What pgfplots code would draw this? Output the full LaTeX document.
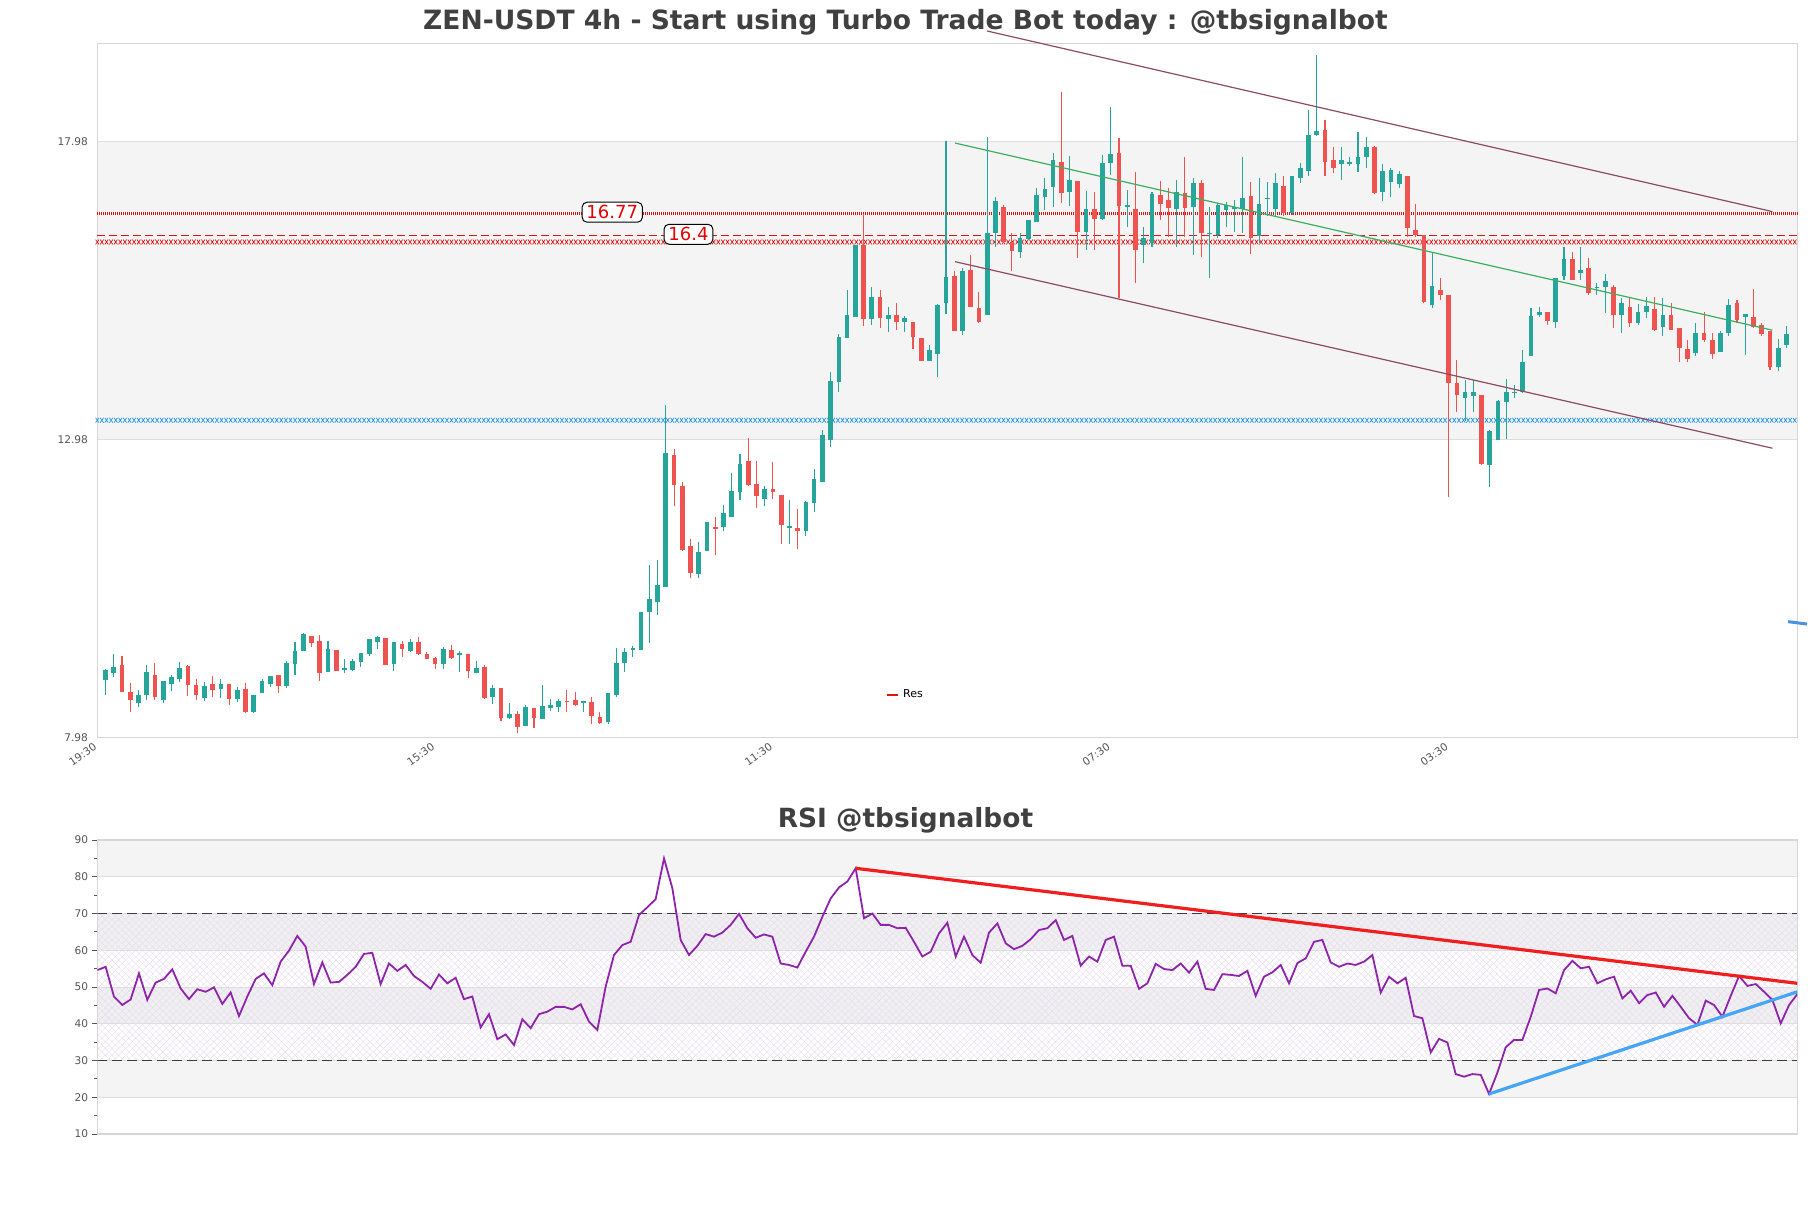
\documentclass[border=0pt]{standalone}
\usepackage{pgfplots}
\pgfplotsset{compat=1.18}
\usepackage{pgfplotstable}
\usepackage{fontspec}
\setmainfont{DejaVu Sans}
\usetikzlibrary{patterns.meta, decorations.markings}
\pgfplotsset{set layers}

\definecolor{cgreen}{RGB}{38,166,154}
\definecolor{cred}{RGB}{239,83,80}
\definecolor{bandgray}{RGB}{244,244,244}
\definecolor{gridgray}{RGB}{222,222,222}
\definecolor{framegray}{RGB}{214,214,214}
\definecolor{titlegray}{RGB}{64,64,64}
\definecolor{ticklab}{RGB}{85,85,85}
\definecolor{chan}{RGB}{140,75,100}
\definecolor{trendgreen}{RGB}{60,175,95}
\definecolor{resred}{RGB}{225,20,20}
\definecolor{supblue}{RGB}{30,150,235}
\definecolor{rsipurple}{RGB}{142,36,170}
\definecolor{rsired}{RGB}{240,30,30}
\definecolor{rsiblue}{RGB}{70,165,245}
\definecolor{hatch}{RGB}{230,222,236}
\definecolor{rsiband}{RGB}{240,240,243}
\definecolor{segblue}{RGB}{74,144,226}

\tikzset{xchain/.style={postaction={decorate, decoration={markings,
  mark=between positions 0 and 1 step 2.3pt with {\draw[#1, line width=0.35pt] (-0.85pt,-1.2pt)--(0.85pt,1.2pt) (-0.85pt,1.2pt)--(0.85pt,-1.2pt);}}}}}

\pgfplotstableread{
i o h l c
0 8.941 9.120 8.690 9.109
1 9.064 9.377 8.997 9.165
4 8.561 8.773 8.494 8.690
5 8.690 9.193 8.606 9.076
7 8.606 8.925 8.561 8.925
8 8.874 9.025 8.762 8.992
9 8.958 9.249 8.913 9.143
12 8.639 8.913 8.595 8.841
14 8.790 8.958 8.645 8.874
16 8.623 8.829 8.567 8.773
18 8.410 8.690 8.393 8.690
19 8.718 8.953 8.718 8.925
20 8.874 9.008 8.829 9.008
22 8.841 9.260 8.801 9.232
23 9.210 9.573 9.025 9.427
24 9.433 9.724 9.433 9.713
27 9.081 9.596 9.081 9.461
29 9.109 9.294 9.064 9.137
30 9.109 9.294 9.098 9.266
31 9.249 9.399 9.165 9.399
32 9.377 9.629 9.349 9.629
33 9.579 9.685 9.461 9.668
35 9.210 9.579 9.098 9.579
37 9.433 9.624 9.416 9.579
41 9.215 9.489 9.126 9.461
43 9.366 9.433 9.081 9.388
45 9.064 9.260 9.053 9.137
47 8.662 8.852 8.539 8.807
49 8.298 8.550 8.281 8.371
51 8.170 8.516 8.170 8.494
53 8.293 8.857 8.293 8.505
54 8.477 8.623 8.427 8.522
55 8.494 8.623 8.410 8.589
58 8.550 8.589 8.410 8.589
61 8.243 8.718 8.203 8.718
62 8.690 9.473 8.662 9.221
63 9.233 9.473 9.081 9.417
64 9.456 9.513 9.322 9.473
65 9.451 10.077 9.451 10.077
66 10.088 10.871 9.557 10.295
67 10.245 10.955 10.032 10.536
68 10.508 13.555 10.497 12.755
72 10.715 11.252 10.657 11.090
73 11.107 11.592 11.107 11.592
75 11.512 11.881 11.448 11.743
76 11.680 12.419 11.670 12.113
77 12.101 12.726 11.957 12.564
80 11.986 12.200 11.853 12.148
83 11.506 11.957 11.223 11.520
85 11.448 11.940 11.350 11.928
86 11.911 12.477 11.767 12.315
87 12.258 13.130 12.258 13.055
88 12.968 14.106 12.852 13.950
89 13.933 14.742 13.777 14.690
90 14.684 15.482 14.684 15.060
91 15.031 16.233 15.031 16.233
93 14.990 15.527 14.904 15.365
95 15.002 15.204 14.788 15.066
97 14.944 15.043 14.788 15.020
100 14.297 14.557 14.297 14.470
101 14.413 15.250 14.025 15.233
102 15.262 17.980 15.077 15.701
104 14.799 15.857 14.730 15.800
107 15.066 18.045 15.066 16.447
108 16.447 17.050 16.212 16.978
111 16.116 16.447 16.016 16.350
112 16.335 16.659 16.324 16.659
113 16.631 17.191 16.631 17.079
114 17.051 17.369 16.827 17.180
115 17.219 17.778 16.883 17.666
117 17.135 17.734 16.895 17.331
119 16.464 17.152 16.156 16.839
121 16.671 17.750 16.660 17.611
122 17.611 18.550 17.410 17.767
124 16.890 17.170 16.550 16.910
126 16.240 16.550 15.940 16.350
127 16.270 17.135 16.210 17.090
130 16.839 17.330 16.212 17.135
132 16.883 17.360 16.070 17.275
134 16.430 16.880 15.690 16.447
135 16.410 16.940 16.360 16.910
136 16.830 16.960 16.550 16.910
137 16.860 17.000 16.460 16.870
138 16.840 17.720 16.440 17.030
140 16.390 17.360 16.270 16.930
141 17.020 17.300 16.730 17.030
142 16.840 17.440 16.730 17.275
144 16.770 17.390 16.740 17.390
145 17.360 17.610 17.280 17.540
146 17.480 18.510 17.390 18.090
147 18.090 19.430 18.070 18.160
150 17.600 17.880 17.330 17.670
151 17.610 17.720 17.560 17.630
152 17.600 18.130 17.460 17.720
153 17.720 18.050 17.540 17.880
155 17.130 17.600 16.980 17.480
156 17.290 17.540 17.040 17.500
157 17.270 17.480 17.200 17.430
161 15.240 16.130 15.180 15.550
165 13.670 13.980 13.280 13.780
166 13.700 13.980 13.440 13.780
168 12.550 13.140 12.180 13.120
169 12.970 13.640 12.960 13.620
170 13.610 14.000 12.990 13.780
171 13.760 13.890 13.670 13.780
172 13.780 14.480 13.750 14.280
173 14.370 15.180 14.370 15.050
174 15.070 15.200 15.040 15.120
176 14.950 15.680 14.840 15.680
177 15.720 16.210 15.650 16.000
179 15.770 16.210 15.650 15.820
181 15.530 15.600 15.400 15.540
182 15.530 15.760 15.100 15.630
184 15.070 15.350 14.760 15.270
186 14.930 15.250 14.900 15.120
187 15.120 15.370 15.010 15.210
189 14.870 15.350 14.710 15.070
193 14.420 14.930 14.380 14.770
196 14.450 14.790 14.450 14.770
197 14.760 15.330 14.710 15.230
199 15.030 15.080 14.390 15.080
203 14.190 14.670 14.120 14.520
204 14.560 14.880 14.510 14.740
}\greentab

\pgfplotstableread{
i o h l c
2 9.193 9.344 8.740 8.746
3 8.746 8.897 8.410 8.606
6 9.025 9.232 8.606 8.651
10 9.176 9.193 8.673 8.857
11 8.857 8.958 8.606 8.690
13 8.874 9.008 8.662 8.773
15 8.874 8.874 8.522 8.623
17 8.790 8.897 8.382 8.410
21 9.025 9.025 8.718 8.841
25 9.680 9.680 9.501 9.568
26 9.596 9.696 8.930 9.053
28 9.444 9.444 9.092 9.092
34 9.646 9.646 9.193 9.193
36 9.551 9.596 9.333 9.467
38 9.579 9.657 9.360 9.377
39 9.383 9.405 9.294 9.294
40 9.316 9.333 9.126 9.215
42 9.444 9.529 9.294 9.316
44 9.383 9.383 8.980 9.098
46 9.165 9.193 8.617 8.639
48 8.807 8.807 8.259 8.298
50 8.371 8.421 8.058 8.159
52 8.466 8.466 8.136 8.309
56 8.589 8.774 8.410 8.573
57 8.606 8.740 8.505 8.522
59 8.573 8.662 8.203 8.343
60 8.326 8.410 8.203 8.225
69 12.716 12.823 11.861 12.213
70 12.196 12.269 11.107 11.119
71 11.189 11.304 10.657 10.744
74 11.506 11.670 11.044 11.483
78 12.622 13.008 12.188 12.217
79 12.229 12.622 11.824 12.026
81 12.142 12.593 11.986 12.101
82 12.044 12.044 11.223 11.535
84 11.495 11.813 11.136 11.448
92 16.233 16.763 14.875 14.990
94 15.365 15.493 14.846 15.020
96 15.066 15.262 14.817 14.944
98 14.950 14.950 14.488 14.701
99 14.684 14.684 14.297 14.297
103 15.712 15.800 14.799 14.799
105 15.817 16.070 15.204 15.204
106 15.178 15.457 14.926 14.954
109 16.883 16.910 16.270 16.296
110 16.296 16.447 15.810 16.138
116 17.638 18.813 16.939 17.107
118 17.314 17.314 16.016 16.464
120 16.839 17.135 16.156 16.671
123 17.790 18.030 15.344 16.900
125 16.839 17.470 15.597 16.156
128 17.079 17.320 16.660 16.928
129 17.000 17.190 16.380 16.860
131 17.120 17.720 16.380 16.860
133 17.275 17.330 16.040 16.447
139 17.070 17.300 16.090 16.350
143 17.235 17.400 16.720 16.770
148 18.170 18.330 17.390 17.640
149 17.670 17.880 17.450 17.540
154 17.890 17.900 17.100 17.110
158 17.390 17.400 16.380 16.520
159 16.490 16.930 16.370 16.410
160 16.410 16.410 15.260 15.290
162 15.490 15.680 15.320 15.400
163 15.400 15.400 12.020 13.930
164 13.920 14.310 13.440 13.720
167 13.720 13.720 12.550 12.570
175 15.120 15.120 14.900 14.970
178 16.000 16.130 15.650 15.650
180 15.860 16.020 15.400 15.430
183 15.540 15.570 14.840 15.070
185 15.200 15.370 14.870 14.930
188 15.160 15.360 14.790 14.820
190 15.070 15.260 14.820 14.820
191 14.840 14.840 14.270 14.510
192 14.490 14.650 14.270 14.320
194 14.760 15.120 14.620 14.650
195 14.650 14.760 14.320 14.410
198 15.260 15.320 14.930 14.980
200 15.040 15.500 14.840 14.870
201 14.900 14.930 14.710 14.750
202 14.790 14.790 14.140 14.190
}\redtab

\pgfplotstableread{
i r
0 54.6
1 55.5
2 47.4
3 45.1
4 46.6
5 53.7
6 46.5
7 51.2
8 52.2
9 54.8
10 49.6
11 46.7
12 49.4
13 48.7
14 49.9
15 45.4
16 48.5
17 42.1
18 47.4
19 52.2
20 53.7
21 50.5
22 56.9
23 59.9
24 63.9
25 61.0
26 50.8
27 56.7
28 51.2
29 51.4
30 53.3
31 55.5
32 59.0
33 59.3
34 50.8
35 56.4
36 54.4
37 56.0
38 53.0
39 51.4
40 49.5
41 53.4
42 51.0
43 52.5
44 46.7
45 47.4
46 39.0
47 42.6
48 35.8
49 37.1
50 34.2
51 41.2
52 38.8
53 42.6
54 43.3
55 44.6
56 44.6
57 43.9
58 45.3
59 40.6
60 38.3
61 50.1
62 58.7
63 61.4
64 62.3
65 69.6
66 71.7
67 73.9
68 85.0
69 76.9
70 62.8
71 58.7
72 61.2
73 64.4
74 63.7
75 64.8
76 66.9
77 69.9
78 66.0
79 63.4
80 64.3
81 63.7
82 56.4
83 56.0
84 55.3
85 59.6
86 63.7
87 69.1
88 74.1
89 77.1
90 78.7
91 82.3
92 68.7
93 70.0
94 66.9
95 66.9
96 66.0
97 66.1
98 62.3
99 58.3
100 59.6
101 64.6
102 67.5
103 58.3
104 63.7
105 58.7
106 56.6
107 64.8
108 67.3
109 61.9
110 60.3
111 61.2
112 63.0
113 65.5
114 66.0
115 68.2
116 62.8
117 63.9
118 55.8
119 58.3
120 56.9
121 62.8
122 63.7
123 55.8
124 55.8
125 49.5
126 51.0
127 56.3
128 54.9
129 54.6
130 56.4
131 53.9
132 56.9
133 49.5
134 49.2
135 53.5
136 53.3
137 53.0
138 54.4
139 47.6
140 52.8
141 54.0
142 56.0
143 51.0
144 56.5
145 57.8
146 62.3
147 62.8
148 56.7
149 55.5
150 56.4
151 56.0
152 56.9
153 58.7
154 48.5
155 52.8
156 51.0
157 52.5
158 42.1
159 41.5
160 32.2
161 35.9
162 34.9
163 26.3
164 25.6
165 26.3
166 26.1
167 20.9
168 26.7
169 33.6
170 35.6
171 35.6
172 41.9
173 49.2
174 49.6
175 48.3
176 54.6
177 57.1
178 55.1
179 55.5
180 51.0
181 52.1
182 52.8
183 46.9
184 49.0
185 45.6
186 47.8
187 48.5
188 44.6
189 47.6
190 44.6
191 41.5
192 39.7
193 46.3
194 45.1
195 41.9
196 47.6
197 53.0
198 50.3
199 50.8
200 48.7
201 46.5
202 40.1
203 45.1
204 48.1
}\rsitab

\begin{document}
\begin{tikzpicture}

\node[font=\bfseries\fontsize{13.28}{16}\selectfont, text=titlegray] at (452.75pt,-11pt) {ZEN-USDT 4h - Start using Turbo Trade Bot today : @tbsignalbot};
\node[font=\bfseries\fontsize{13.2}{16}\selectfont, text=titlegray] at (452.75pt,-410pt) {RSI @tbsignalbot};

% ---------------- main price axis ----------------
\begin{axis}[
  at={(48.65pt,-368.65pt)}, anchor=south west,
  scale only axis, width=850.05pt, height=347pt,
  xmin=-0.995, xmax=205.33, ymin=7.98, ymax=19.624,
  axis line style={draw=framegray, line width=0.6pt},
  ytick={7.98,12.98,17.98}, yticklabels={7.98,12.98,17.98},
  xtick={-1,40,81,122,163}, xticklabels={19:30,15:30,11:30,07:30,03:30},
  major tick length=0pt, minor tick length=0pt,
  ymajorgrids, major grid style={draw=gridgray, line width=0.5pt},
  tick label style={font=\fontsize{5.3}{6}\selectfont, text=ticklab},
  yticklabel style={anchor=east, inner sep=0pt, xshift=-4.5pt},
  xticklabel style={rotate=35, anchor=north east, inner sep=0pt, yshift=-0.6pt, xshift=-3pt},
  clip=false,
  legend style={at={(0.464,0.061)}, anchor=west, draw=none, fill=none,
    font=\fontsize{5.5}{6}\selectfont, inner sep=0pt, outer sep=0pt},
  legend image code/.code={\draw[#1] (0pt,0pt) -- (5.5pt,0pt);},
]
\addplot[forget plot, on layer=axis background, fill=bandgray, draw=gridgray, line width=0.5pt]
  coordinates {(-0.995,12.98) (205.33,12.98) (205.33,17.98) (-0.995,17.98) (-0.995,12.98)};

% horizontal levels
\addplot[forget plot, resred, line width=1.2pt, dash pattern=on 0.55pt off 0.45pt] coordinates {(-0.995,16.77) (205.33,16.77)};
\addplot[forget plot, resred, line width=0.7pt, dash pattern=on 4pt off 2pt] coordinates {(-0.995,16.40) (205.33,16.40)};
\addplot[forget plot, draw=none, xchain=resred] coordinates {(-0.995,16.29) (205.33,16.29)};
\addplot[forget plot, draw=none, xchain=supblue] coordinates {(-0.995,13.30) (205.33,13.30)};

% wicks
\addplot[forget plot, draw=none, no markers,
  error bars/.cd, y dir=both, y explicit, error mark=none,
  error bar style={draw=cgreen, line width=0.55pt}]
  table[x=i, y expr={(\thisrow{h}+\thisrow{l})/2}, y error expr={(\thisrow{h}-\thisrow{l})/2}] {\greentab};
\addplot[forget plot, draw=none, no markers,
  error bars/.cd, y dir=both, y explicit, error mark=none,
  error bar style={draw=cred, line width=0.55pt}]
  table[x=i, y expr={(\thisrow{h}+\thisrow{l})/2}, y error expr={(\thisrow{h}-\thisrow{l})/2}] {\redtab};
% bodies
\addplot[forget plot, draw=none, no markers,
  error bars/.cd, y dir=both, y explicit, error mark=none,
  error bar style={draw=cgreen, line width=2.35pt}]
  table[x=i, y expr={(\thisrow{o}+\thisrow{c})/2}, y error expr={max(abs(\thisrow{c}-\thisrow{o})/2,0.008)}] {\greentab};
\addplot[forget plot, draw=none, no markers,
  error bars/.cd, y dir=both, y explicit, error mark=none,
  error bar style={draw=cred, line width=2.35pt}]
  table[x=i, y expr={(\thisrow{o}+\thisrow{c})/2}, y error expr={max(abs(\thisrow{c}-\thisrow{o})/2,0.008)}] {\redtab};

% channel and trend
\addplot[forget plot, chan, line width=0.6pt] coordinates {(107.0,19.83) (202.3,16.80)};
\addplot[forget plot, chan, line width=0.6pt] coordinates {(103.1,15.96) (202.3,12.83)};
\addplot[forget plot, trendgreen, line width=0.6pt] coordinates {(103.1,17.95) (202.3,14.81)};
\addplot[forget plot, segblue, line width=1.5pt] coordinates {(204.2,9.92) (206.5,9.88)};

\node[draw=black, line width=0.5pt, rounded corners=2.5pt, fill=white, text={rgb,255:red,230;green,0;blue,0},
  font=\fontsize{9}{10}\selectfont, inner xsep=2.2pt, inner ysep=0pt, minimum height=10pt] at (axis cs:61.5,16.79) {16.77};
\node[draw=black, line width=0.5pt, rounded corners=2.5pt, fill=white, text={rgb,255:red,230;green,0;blue,0},
  font=\fontsize{9}{10}\selectfont, inner xsep=2.2pt, inner ysep=0pt, minimum height=10pt] at (axis cs:70.75,16.42) {16.4};

\addlegendimage{resred, line width=1pt}
\addlegendentry{Res}
\end{axis}

% ---------------- RSI axis ----------------
\begin{axis}[
  at={(48.65pt,-567pt)}, anchor=south west,
  scale only axis, width=850.05pt, height=147pt,
  xmin=0, xmax=204, ymin=10, ymax=90,
  axis line style={draw=framegray, line width=0.6pt},
  xtick=\empty,
  ytick={10,20,30,40,50,60,70,80,90}, yticklabels={10,20,30,40,50,60,70,80,90},
  minor ytick={15,25,35,45,55,65,75,85},
  ytick pos=left, tick align=outside,
  major tick length=2.9pt, minor tick length=1.5pt,
  tick style={draw=ticklab, line width=0.4pt},
  ymajorgrids, major grid style={draw=gridgray, line width=0.5pt},
  tick label style={font=\fontsize{5.3}{6}\selectfont, text=ticklab},
  yticklabel style={anchor=east, inner sep=0pt, xshift=-1.5pt},
]
\addplot[forget plot, on layer=axis background, fill=bandgray, draw=none] coordinates {(0,80) (204,80) (204,90) (0,90) (0,80)};
\addplot[forget plot, on layer=axis background, fill=rsiband, draw=none] coordinates {(0,60) (204,60) (204,70) (0,70) (0,60)};
\addplot[forget plot, on layer=axis background, fill=rsiband, draw=none] coordinates {(0,40) (204,40) (204,50) (0,50) (0,40)};
\addplot[forget plot, on layer=axis background, fill=bandgray, draw=none] coordinates {(0,20) (204,20) (204,30) (0,30) (0,20)};
\addplot[forget plot, on layer=axis background, draw=none, pattern={Lines[angle=45,distance=2.4pt,line width=0.22pt]}, pattern color=hatch]
  coordinates {(0,30) (204,30) (204,70) (0,70) (0,30)};
\addplot[forget plot, on layer=axis background, draw=none, pattern={Lines[angle=-45,distance=2.4pt,line width=0.22pt]}, pattern color=hatch]
  coordinates {(0,30) (204,30) (204,70) (0,70) (0,30)};

\addplot[forget plot, draw={rgb,255:red,60;green,60;blue,60}, line width=0.6pt, dash pattern=on 5pt off 2.5pt] coordinates {(0,70) (204,70)};
\addplot[forget plot, draw={rgb,255:red,60;green,60;blue,60}, line width=0.6pt, dash pattern=on 5pt off 2.5pt] coordinates {(0,30) (204,30)};

\addplot[forget plot, rsipurple, line width=0.9pt] table[x=i, y=r] {\rsitab};
\addplot[forget plot, rsired, line width=1.6pt] coordinates {(91,82.3) (204,51.0)};
\addplot[forget plot, rsiblue, line width=1.6pt] coordinates {(167,20.9) (204,48.7)};
\end{axis}

\path (0pt,0pt) rectangle (905.5pt,-604pt);
\end{tikzpicture}
\end{document}
